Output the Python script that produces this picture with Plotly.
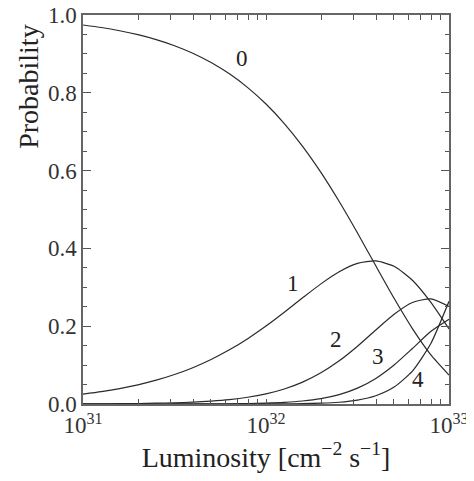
import plotly.graph_objects as go

# log10 of luminosity [cm^-2 s^-1]
log_lumi = [31.0, 31.1, 31.2, 31.3, 31.4, 31.5, 31.6, 31.7, 31.8, 31.9, 32.0,
            32.1, 32.2, 32.3, 32.4, 32.5, 32.6, 32.7, 32.8, 32.9, 33.0]

prob_0 = [0.9743, 0.9678, 0.9596, 0.9494, 0.9368, 0.9211, 0.9017, 0.8778, 0.8487, 0.8134, 0.7711,
          0.7209, 0.6623, 0.5953, 0.5204, 0.4395, 0.3552, 0.2717, 0.1938, 0.1268, 0.0743]
prob_1 = [0.0253, 0.0317, 0.0396, 0.0493, 0.0612, 0.0757, 0.0933, 0.1144, 0.1392, 0.1680, 0.2005,
          0.2360, 0.2729, 0.3088, 0.3399, 0.3613, 0.3677, 0.3540, 0.3180, 0.2619, 0.1931]
prob_2 = [0.0003, 0.0005, 0.0008, 0.0013, 0.0020, 0.0031, 0.0048, 0.0075, 0.0114, 0.0173, 0.0261,
          0.0386, 0.0562, 0.0801, 0.1110, 0.1485, 0.1903, 0.2307, 0.2608, 0.2704, 0.2510]
prob_3 = [0.0000, 0.0000, 0.0000, 0.0000, 0.0000, 0.0001, 0.0002, 0.0003, 0.0006, 0.0012, 0.0023,
          0.0042, 0.0077, 0.0139, 0.0242, 0.0407, 0.0657, 0.1002, 0.1426, 0.1862, 0.2176]
prob_4 = [0.0000, 0.0000, 0.0000, 0.0000, 0.0000, 0.0000, 0.0000, 0.0000, 0.0000, 0.0000, 0.0002,
          0.0004, 0.0009, 0.0020, 0.0045, 0.0100, 0.0212, 0.0435, 0.0847, 0.1548, 0.2640]

series = [prob_0, prob_1, prob_2, prob_3, prob_4]
curve_labels = ["0", "1", "2", "3", "4"]
label_log_x = [31.87, 32.15, 32.38, 32.61, 32.83]
label_y = [0.889, 0.311, 0.165, 0.123, 0.062]

decades = [31, 32, 33]
x_tick_vals = []
x_tick_text = []
for d in decades:
    for m in range(1, 10):
        if d == 33 and m > 1:
            break
        x_tick_vals.append(float(m) * 10.0 ** d)
        x_tick_text.append("10<sup>%d</sup>" % d if m == 1 else "")
y_tick_vals = [0.0, 0.2, 0.4, 0.6, 0.8, 1.0]
y_tick_text = ["0.0", "0.2", "0.4", "0.6", "0.8", "1.0"]

lumi = [10.0 ** v for v in log_lumi]

fig = go.Figure()
for ys in series:
    fig.add_trace(go.Scatter(
        x=lumi, y=ys, mode="lines",
        line=dict(color="#2a2a2a", width=1.2, shape="spline", smoothing=0.6),
        showlegend=False, hoverinfo="skip",
    ))

for lab, lx, ly in zip(curve_labels, label_log_x, label_y):
    fig.add_annotation(x=lx, y=ly, text=lab, showarrow=False,
                       font=dict(family="Liberation Serif", size=23, color="#222222"))

font = dict(family="Liberation Serif", size=23, color="#333333")
title_font = dict(family="Liberation Serif", size=28, color="#222222")

fig.add_annotation(xref="paper", yref="paper", x=-0.148, y=0.815, text="Probability",
                   xanchor="center", yanchor="middle",
                   textangle=-90, showarrow=False, font=title_font)

fig.update_layout(
    width=466, height=473,
    margin=dict(l=75, r=25, t=7, b=77),
    paper_bgcolor="white", plot_bgcolor="white",
    font=font,
    xaxis=dict(
        type="log", range=[31, 33], automargin=False, ticklabeloverflow="allow",
        tickmode="array", tickvals=x_tick_vals, ticktext=x_tick_text,
        ticks="inside", ticklen=5, tickwidth=1, tickcolor="#555555",
        showline=True, linecolor="#666666", linewidth=1.5, mirror="ticks",
        showgrid=False, zeroline=False,
        title=dict(text="Luminosity [cm<sup>−2</sup> s<sup>−1</sup>]", font=title_font, standoff=0),
        tickfont=font,
    ),
    yaxis=dict(
        range=[0, 1.0], automargin=False, ticklabeloverflow="allow",
        tickmode="array", tickvals=y_tick_vals, ticktext=y_tick_text,
        ticks="inside", ticklen=8, tickwidth=1, tickcolor="#555555",
        minor=dict(dtick=0.05, ticks="inside", ticklen=4, tickcolor="#555555", showgrid=False),
        showline=True, linecolor="#666666", linewidth=1.5, mirror="ticks",
        showgrid=False, zeroline=False,
        tickfont=font,
    ),
)

fig.write_html("out.html")
